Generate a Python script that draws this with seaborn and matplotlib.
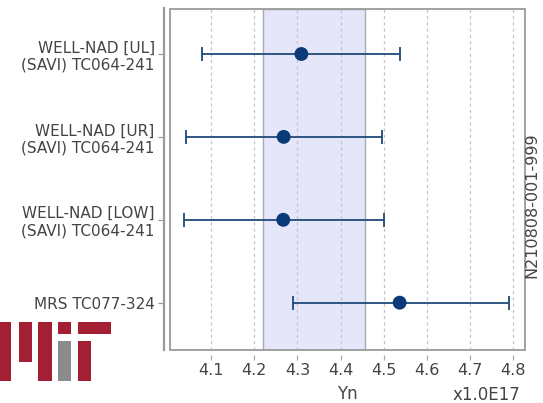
import matplotlib
matplotlib.use("Agg")
import matplotlib.pyplot as plt
from matplotlib.patches import Rectangle
import seaborn as sns
import pandas as pd
import numpy as np

# ---- data (units of 1e17) ----
labels = ["WELL-NAD [UL]\n(SAVI) TC064-241",
          "WELL-NAD [UR]\n(SAVI) TC064-241",
          "WELL-NAD [LOW]\n(SAVI) TC064-241",
          "MRS TC077-324"]
values = [4.309, 4.268, 4.267, 4.537]
lower = [4.078, 4.041, 4.037, 4.290]
upper = [4.537, 4.497, 4.500, 4.790]
band = [4.220, 4.456]
xticks = [4.1, 4.2, 4.3, 4.4, 4.5, 4.6, 4.7, 4.8]
xlim = (4.0042, 4.8267)
serial = "N210808-001-999"
scale_label = "x1.0E17"

W, H = 543, 403
sns.set_theme(style="white")
plt.rcParams['font.family'] = ['DejaVu Sans']
fig = plt.figure(figsize=(W / 100, H / 100), dpi=100)
ax = fig.add_axes([170 / W, 1 - 350 / H, (524.5 - 170) / W, (350 - 8.5) / H])

df = pd.DataFrame({"label": labels, "value": values, "lo": lower, "hi": upper})
ypos = np.arange(len(labels))

ax.axvspan(band[0], band[1], facecolor="#e6e6fb", edgecolor="#a8a8b8", lw=1.0, zorder=0)
for t in xticks:
    ax.axvline(t, color="#c4c4c4", lw=0.9, ls=(0, (2.5, 2.5)), zorder=0.5)

err = np.vstack([df["value"] - df["lo"], df["hi"] - df["value"]])
ax.errorbar(df["value"], ypos, xerr=err, fmt="none", ecolor="#1f4a7a",
            elinewidth=1.3, capsize=4.7, capthick=1.3, zorder=2)
sns.scatterplot(data=df, x="value", y="label", ax=ax, color="#0b3a78",
                s=100, edgecolor="none", zorder=3, legend=False)

ax.set_xlim(*xlim)
ax.set_ylim(3.571, -0.549)
ax.set_xticks(xticks)
ax.set_xticklabels([f"{t:.1f}" for t in xticks])
ax.set_yticks(ypos)
ax.set_yticklabels(labels, multialignment="center")
ax.set_xlabel("Yn", fontsize=12, color="#444444", labelpad=5)
ax.set_ylabel("")

for s in ["top", "right"]:
    ax.spines[s].set_visible(False)
ax.spines["bottom"].set_visible(False)
ax.spines["bottom"].set_position(("outward", 3.8))
ax.spines["left"].set_position(("outward", 4.0))
ax.spines["left"].set_color("#9a9a9a")
ax.spines["left"].set_linewidth(1.6)
ax.add_patch(Rectangle((0, 0), 1, 1, transform=ax.transAxes, fill=False,
                       edgecolor="#9a9a9a", lw=1.3, zorder=5, clip_on=False))

ax.tick_params(axis="x", bottom=True, length=3.6, width=0.9, color="#aaaaaa",
               pad=2.2, labelsize=11.5, labelcolor="#444444")
ax.tick_params(axis="y", left=True, length=4.0, width=0.9, color="#9a9a9a",
               pad=3, labelsize=11, labelcolor="#444444")
ax.grid(False)

fig.text(486 / W, 1 - 395 / H, scale_label, ha="center", va="center",
         fontsize=12, color="#444444")
fig.text(532 / W, 1 - 205 / H, serial, ha="center", va="center",
         rotation=90, fontsize=11.5, color="#444444")

# MIT logo (decoration)
red, grey = "#a31f34", "#8a8b8c"
def px_rect(x0, y0, x1, y1, c):
    fig.add_artist(Rectangle((x0 / W, 1 - y1 / H), (x1 - x0) / W, (y1 - y0) / H,
                             transform=fig.transFigure, facecolor=c, edgecolor="none"))
px_rect(0, 322, 11, 381, red)
px_rect(19, 322, 31.7, 361.7, red)
px_rect(38.3, 322, 51.7, 381, red)
px_rect(58.3, 322, 71, 334, red)
px_rect(58.3, 341, 71, 381, grey)
px_rect(78.3, 322, 111, 334, red)
px_rect(78.3, 341, 90.7, 381, red)

fig.savefig("out.png", dpi=100)
